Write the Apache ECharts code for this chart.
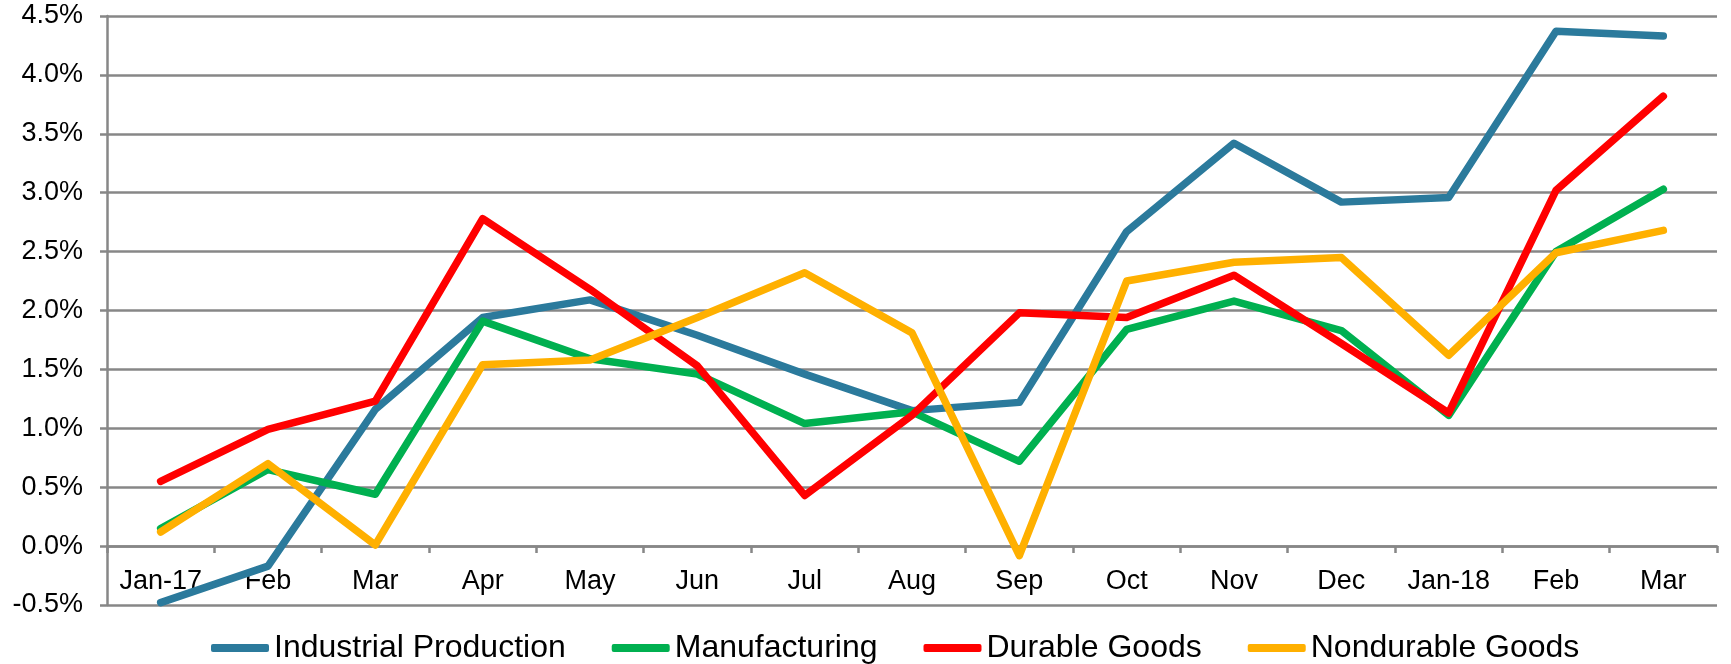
<!DOCTYPE html>
<html>
<head>
    <meta charset="utf-8">
    <title>Industrial Production</title>
    <script src="https://cdn.jsdelivr.net/npm/echarts@6/dist/echarts.min.js"></script>
    <style>
        html, body { margin: 0; padding: 0; background: #fff; }
    </style>
</head>
<body>
<div id="main" style="width: 1731px;height:664px;"></div>
<script type="text/javascript">

    // data
    let months = ['Jan-17', 'Feb', 'Mar', 'Apr', 'May', 'Jun', 'Jul', 'Aug', 'Sep', 'Oct', 'Nov', 'Dec', 'Jan-18', 'Feb', 'Mar'];
    let industrial = [-0.48, -0.17, 1.16, 1.94, 2.09, 1.79, 1.46, 1.15, 1.22, 2.67, 3.42, 2.92, 2.96, 4.37, 4.33];
    let manufacturing = [0.15, 0.65, 0.44, 1.91, 1.59, 1.46, 1.04, 1.14, 0.72, 1.84, 2.08, 1.83, 1.11, 2.50, 3.03];
    let durable = [0.55, 0.99, 1.23, 2.78, 2.18, 1.53, 0.43, 1.11, 1.98, 1.94, 2.30, 1.72, 1.13, 3.02, 3.82];
    let nondurable = [0.12, 0.70, 0.01, 1.54, 1.58, 1.94, 2.32, 1.81, -0.08, 2.25, 2.41, 2.45, 1.62, 2.49, 2.68];

    let yMin = -0.5, yMax = 4.5, yStep = 0.5;

    let font = '"Liberation Sans", Arial, sans-serif';
    let gridColor = '#878787';

    // plot box
    let gTop = 16, gBottom = 59, chartH = 664;
    let plotH = chartH - gTop - gBottom;
    // move the category axis up to the 0% line
    let zeroOffset = -plotH * (0 - yMin) / (yMax - yMin);

    function line(name, data, color) {
        return {
            name: name,
            type: 'line',
            data: data,
            symbol: 'none',
            smooth: false,
            lineStyle: { color: color, width: 7.5, cap: 'round', join: 'round' },
            itemStyle: { color: color }
        };
    }

    let option = {
        animation: false,
        backgroundColor: '#fff',
        grid: { left: 107, right: 14, top: gTop, bottom: gBottom },
        legend: {
            left: 206,
            top: 627,
            icon: 'roundRect',
            itemWidth: 58,
            itemHeight: 8,
            itemGap: 46,
            textStyle: { fontFamily: font, fontSize: 32, color: '#000' },
            data: ['Industrial Production', 'Manufacturing', 'Durable Goods', 'Nondurable Goods']
        },
        xAxis: {
            type: 'category',
            data: months,
            boundaryGap: true,
            position: 'bottom',
            offset: zeroOffset,
            axisLine: { onZero: false, lineStyle: { color: gridColor, width: 2.5 } },
            axisTick: { show: true, length: 7, lineStyle: { color: gridColor, width: 2.5 } },
            axisLabel: { margin: 22, fontFamily: font, fontSize: 27, color: '#000', interval: 0 }
        },
        yAxis: {
            type: 'value',
            min: yMin,
            max: yMax,
            interval: yStep,
            axisLine: { show: true, lineStyle: { color: gridColor, width: 2.5 } },
            axisTick: { show: true, length: 7, lineStyle: { color: gridColor, width: 2.5 } },
            splitLine: { show: true, lineStyle: { color: gridColor, width: 2.5 } },
            axisLabel: {
                margin: 24,
                fontFamily: font,
                fontSize: 27,
                color: '#000',
                formatter: function (v) { return v.toFixed(1) + '%'; }
            }
        },
        series: [
            line('Industrial Production', industrial, '#2b7a9c'),
            line('Manufacturing', manufacturing, '#00b050'),
            line('Durable Goods', durable, '#ff0000'),
            line('Nondurable Goods', nondurable, '#ffb000')
        ]
    };

    let myChart = echarts.init(document.getElementById('main'));
    myChart.setOption(option);
</script>
</body>
</html>
